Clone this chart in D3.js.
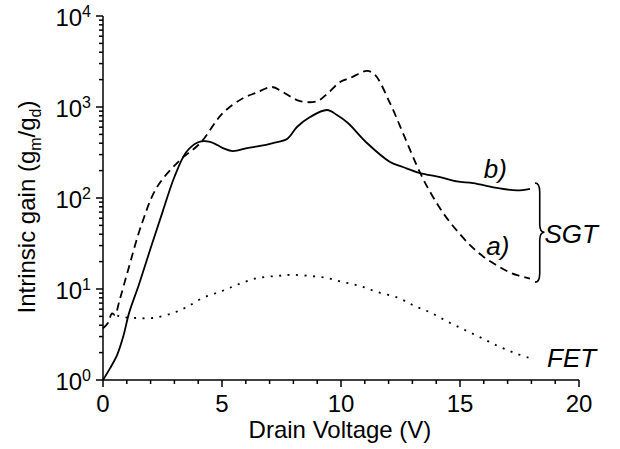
<!DOCTYPE html>
<html>
<head>
<meta charset="utf-8">
<script src="https://cdn.jsdelivr.net/npm/d3@7"></script>
<style>
	body { margin: 0; background: #fff; }
	svg { display: block; }
	text { font-family: "Liberation Sans", Arial, sans-serif; fill: #000; }
	.tickLabel { font-size: 24px; }
	.axisTitle { font-size: 24px; }
	.note { font-size: 26px; font-style: italic; }
	.curve { fill: none; stroke: #000; stroke-width: 1.8; }
</style>
</head>
<body>
<svg id="chart" width="620" height="449"></svg>
<script>
// values
var xTicks = [0, 5, 10, 15, 20];
var yDecades = [0, 1, 2, 3, 4];

// SGT a) dashed
var sgtA_V    = [0, 0.2, 0.38, 0.5, 0.7, 1.05, 1.64, 2.27, 3.24, 4.08, 5.04, 5.88, 6.4, 7.1, 7.56, 8.28, 9.0, 9.45, 9.96, 10.38, 11.09, 11.43, 12.06, 12.6, 13.32, 13.8, 14.37, 15.0, 15.5, 16.0, 16.5, 17.0, 17.4, 17.94];
var sgtA_gain = [3.7, 4.2, 5.4, 5.2, 7.6, 16, 53, 132, 262, 400, 860, 1250, 1420, 1660, 1460, 1160, 1160, 1420, 1880, 2080, 2490, 2250, 1100, 520, 190, 110, 64, 40, 29, 22.5, 18.5, 15.6, 14.2, 13.0];

// SGT b) solid
var sgtB_V    = [0, 0.3, 0.6, 0.85, 1.1, 1.5, 2.0, 2.5, 3.0, 3.5, 4.0, 4.5, 5.04, 5.46, 6.05, 6.6, 7.14, 7.73, 8.15, 8.7, 9.41, 9.83, 10.29, 11.09, 12.06, 12.6, 13.32, 14.16, 14.87, 15.55, 16.55, 17.39, 17.94];
var sgtB_gain = [1.0, 1.35, 1.9, 3.0, 5.5, 11, 28, 70, 170, 320, 410, 415, 354, 328, 354, 373, 402, 445, 603, 776, 927, 817, 667, 402, 249, 219, 188, 170, 152, 146, 129, 121, 126];

// FET dotted
var fet_V    = [0.6, 0.9, 1.4, 2.1, 2.9, 3.5, 4.2, 5.0, 5.7, 6.5, 7.3, 7.9, 8.7, 9.4, 10.1, 10.8, 11.5, 12.4, 13.1, 13.8, 14.5, 15.2, 15.9, 16.6, 17.3, 17.9];
var fet_gain = [5.1, 4.9, 4.8, 4.8, 5.4, 6.3, 8.0, 9.5, 11.3, 13.2, 13.9, 14.3, 13.9, 13.2, 11.9, 10.8, 9.3, 8.0, 6.5, 5.45, 4.35, 3.55, 2.9, 2.36, 1.98, 1.75];

var svg = d3.select('#chart');

var x = d3.scaleLinear().domain([0, 20]).range([103, 579]);
var y = d3.scaleLog().domain([1, 1e4]).range([380, 16]);

// axes: outward ticks, major + minor
function drawAxes()
{
	var g = svg.append('g').attr('stroke', '#000').attr('stroke-width', 1.5);

	g.append('line').attr('x1', x(0)).attr('x2', x(20))
		.attr('y1', y(1)).attr('y2', y(1));
	g.append('line').attr('x1', x(0)).attr('x2', x(0))
		.attr('y1', y(1)).attr('y2', y(1e4));

	// x ticks every 1 V
	d3.range(0, 21).forEach(function(v) {
		var len = (v % 5 == 0) ? 7 : 4;
		g.append('line').attr('x1', x(v)).attr('x2', x(v))
			.attr('y1', y(1)).attr('y2', y(1) + len);
	});

	// y ticks, log minor
	yDecades.forEach(function(d) {
		var base = Math.pow(10, d);
		g.append('line').attr('x1', x(0) - 7).attr('x2', x(0))
			.attr('y1', y(base)).attr('y2', y(base));
		if (d < 4) {
			for (var k = 2; k < 10; k++) {
				g.append('line').attr('x1', x(0) - 4).attr('x2', x(0))
					.attr('y1', y(base * k)).attr('y2', y(base * k));
			}
		}
	});

	// x tick labels
	svg.append('g').selectAll('text').data(xTicks).enter().append('text')
		.attr('class', 'tickLabel')
		.attr('x', function(d) { return x(d); })
		.attr('y', 412)
		.attr('text-anchor', 'middle')
		.text(function(d) { return d; });

	// y tick labels 10^n
	var yl = svg.append('g').selectAll('text').data(yDecades).enter().append('text')
		.attr('class', 'tickLabel')
		.attr('x', 91)
		.attr('y', function(d) { return y(Math.pow(10, d)) + 10; })
		.attr('text-anchor', 'end');
	yl.append('tspan').text('10');
	yl.append('tspan').attr('dy', -9).attr('font-size', '16px').text(function(d) { return d; });

	// titles
	svg.append('text').attr('class', 'axisTitle')
		.attr('x', 340).attr('y', 438).attr('text-anchor', 'middle')
		.text('Drain Voltage (V)');

	var yt = svg.append('text').attr('class', 'axisTitle')
		.attr('transform', 'translate(35,207) rotate(-90)')
		.attr('text-anchor', 'middle');
	yt.append('tspan').text('Intrinsic gain (g');
	yt.append('tspan').attr('dy', 6).attr('font-size', '16px').text('m');
	yt.append('tspan').attr('dy', -6).text('/g');
	yt.append('tspan').attr('dy', 6).attr('font-size', '16px').text('d');
	yt.append('tspan').attr('dy', -6).text(')');
}

function drawCurve(vs, gs, dash)
{
	var pts = vs.map(function(v, i) { return [v, gs[i]]; });
	var line = d3.line()
		.x(function(d) { return x(d[0]); })
		.y(function(d) { return y(d[1]); })
		.curve(d3.curveCatmullRom.alpha(0.5));
	var p = svg.append('path').datum(pts).attr('class', 'curve').attr('d', line);
	if (dash) {
		p.attr('stroke-dasharray', dash);
	}
	return p;
}

drawAxes();
drawCurve(sgtA_V, sgtA_gain, '8,5');
drawCurve(sgtB_V, sgtB_gain, null);
drawCurve(fet_V, fet_gain, '2,6.5').attr('stroke-width', 2.2);

// annotations
svg.append('text').attr('class', 'note').attr('x', x(16.0)).attr('y', y(166)).text('b)');
svg.append('text').attr('class', 'note').attr('x', x(16.1)).attr('y', y(23.6)).text('a)');
svg.append('text').attr('class', 'note').attr('x', x(18.55)).attr('y', y(32)).text('SGT');
svg.append('text').attr('class', 'note').attr('x', x(18.66)).attr('y', y(1.39)).text('FET');

// brace for SGT
(function() {
	var x0 = x(18.15), x1 = x(18.35), xt = x(18.55);
	var yt = y(146), ym = y(42), yb = y(11.9);
	var d = 'M' + x0 + ',' + yt
		+ ' Q' + x1 + ',' + yt + ' ' + x1 + ',' + (yt + 9)
		+ ' L' + x1 + ',' + (ym - 8)
		+ ' Q' + x1 + ',' + ym + ' ' + xt + ',' + ym
		+ ' Q' + x1 + ',' + ym + ' ' + x1 + ',' + (ym + 8)
		+ ' L' + x1 + ',' + (yb - 9)
		+ ' Q' + x1 + ',' + yb + ' ' + x0 + ',' + yb;
	svg.append('path').attr('d', d).attr('fill', 'none')
		.attr('stroke', '#000').attr('stroke-width', 1.6);
})();
</script>
</body>
</html>
